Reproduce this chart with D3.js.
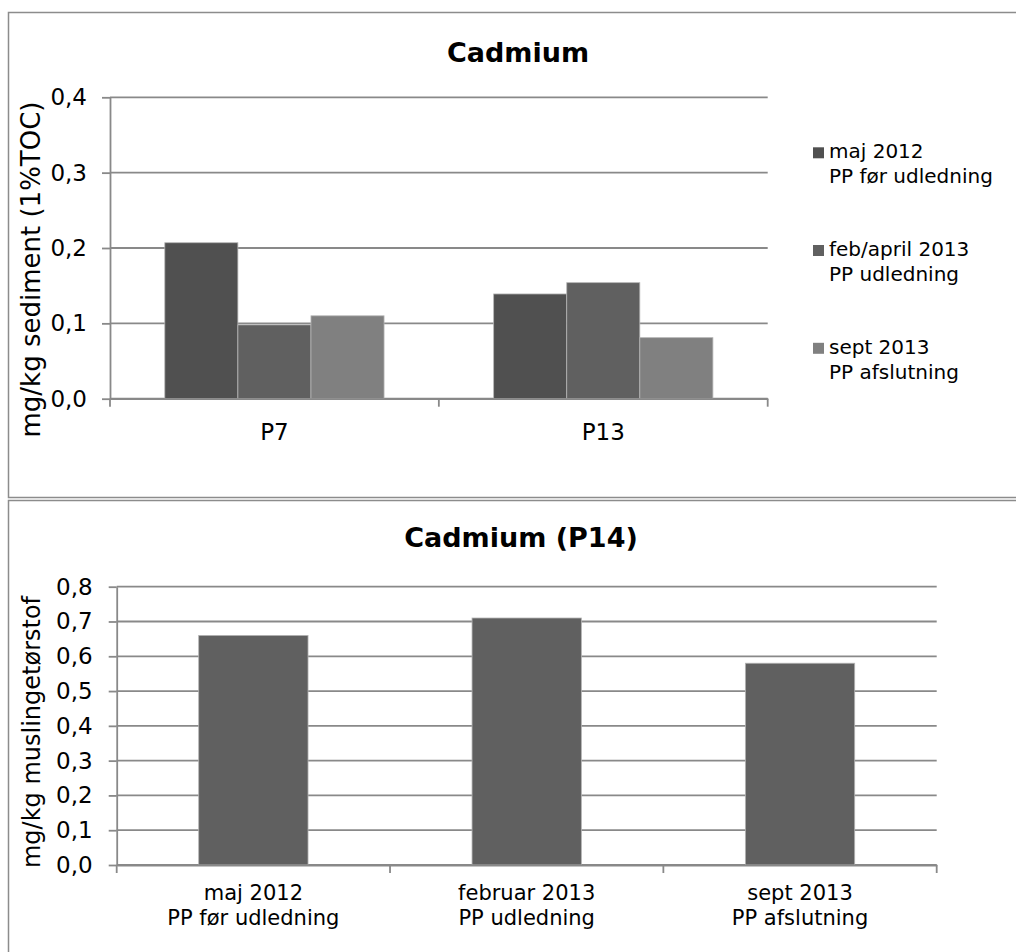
<!DOCTYPE html>
<html>
<head>
<meta charset="utf-8">
<script src="https://cdn.jsdelivr.net/npm/d3@7"></script>
<style>
  html, body { margin: 0; padding: 0; background: #fff; }
  svg { display: block; font-family: "DejaVu Sans", Verdana, sans-serif; }
</style>
</head>
<body>
<svg id="chart" width="1016" height="952"></svg>
<script>
// Sediment cadmium (normalised to 1% TOC) at stations P7 and P13
const stations = ["P7", "P13"];
const seriesLabels = [
  ["maj 2012", "PP før udledning"],
  ["feb/april 2013", "PP udledning"],
  ["sept 2013", "PP afslutning"]
];
const maj2012 = [0.207, 0.139];
const febApril2013 = [0.098, 0.154];
const sept2013 = [0.110, 0.081];
const sedimentTicks = [0, 0.1, 0.2, 0.3, 0.4];

// Mussel cadmium at station P14
const musselPeriods = [
  ["maj 2012", "PP før udledning"],
  ["februar 2013", "PP udledning"],
  ["sept 2013", "PP afslutning"]
];
const musselCadmium = [0.66, 0.71, 0.58];
const musselTicks = [0, 0.1, 0.2, 0.3, 0.4, 0.5, 0.6, 0.7, 0.8];

const seriesColors = ["#505050", "#606060", "#808080"];
const gridColor = "#898989";
const frameColor = "#8c8c8c";
const fontFamily = '"DejaVu Sans", Verdana, sans-serif';
const commaFmt = v => d3.format(".1f")(v).replace(".", ",");

const svg = d3.select("#chart");

// chart frames (they run past the right and bottom edges)
svg.append("path")
  .attr("d", "M1030,12.5 H8.5 V497.5 H1030")
  .attr("fill", "none").attr("stroke", frameColor).attr("stroke-width", 1.5);
svg.append("path")
  .attr("d", "M1030,500.5 H8.5 V970")
  .attr("fill", "none").attr("stroke", frameColor).attr("stroke-width", 1.5);

function drawGrid(g, y, ticks, x0, x1) {
  g.append("g").selectAll("line").data(ticks).join("line")
    .attr("x1", x0).attr("x2", x1)
    .attr("y1", d => y(d)).attr("y2", d => y(d))
    .attr("stroke", gridColor).attr("stroke-width", 1.8);
}

function styleAxis(sel, size) {
  sel.attr("font-family", fontFamily).attr("font-size", size);
  sel.selectAll("path.domain").attr("stroke", gridColor).attr("stroke-width", 1.8);
  sel.selectAll(".tick line").attr("stroke", gridColor).attr("stroke-width", 1.8);
  sel.selectAll(".tick text").attr("fill", "#000");
}

/* ---------- Top chart: Cadmium in sediment ---------- */
{
  const left = 110, right = 767.7, top = 97.3, bottom = 398.7;
  const g = svg.append("g");

  const x0 = d3.scaleBand().domain(stations).range([left, right]).padding(0);
  const unit = x0.bandwidth() / 4.5;
  const x1 = d3.scaleBand().domain(d3.range(3))
    .range([0.75 * unit, x0.bandwidth() - 0.75 * unit]).padding(0);
  const y = d3.scaleLinear().domain([0, 0.4]).range([bottom, top]);

  drawGrid(g, y, sedimentTicks, left, right);

  const seriesValues = [maj2012, febApril2013, sept2013];
  const barData = [];
  seriesValues.forEach((vals, s) => vals.forEach((v, i) =>
    barData.push({ station: stations[i], s, v })));

  g.append("g").selectAll("rect").data(barData).join("rect")
    .attr("x", d => x0(d.station) + x1(d.s))
    .attr("width", x1.bandwidth())
    .attr("y", d => y(d.v))
    .attr("height", d => y(0) - y(d.v))
    .attr("fill", d => seriesColors[d.s])
    .attr("stroke", "#b4b4b4").attr("stroke-width", 0.8);

  // y axis
  const ya = g.append("g").attr("transform", `translate(${left},0)`)
    .call(d3.axisLeft(y).tickValues(sedimentTicks).tickFormat(commaFmt)
      .tickSize(8).tickSizeOuter(0).tickPadding(15));
  styleAxis(ya, 23);

  // x axis: baseline, boundary ticks, centred labels
  const xa = g.append("g").attr("transform", `translate(0,${bottom})`)
    .call(d3.axisBottom(x0).tickSize(0).tickSizeOuter(0).tickPadding(25));
  styleAxis(xa, 23);
  const bounds = stations.map(s => x0(s)).concat([x0(stations[stations.length - 1]) + x0.bandwidth()]);
  xa.append("g").selectAll("line").data(bounds).join("line")
    .attr("x1", d => d).attr("x2", d => d).attr("y1", 0).attr("y2", 8)
    .attr("stroke", gridColor).attr("stroke-width", 1.8);

  // title
  svg.append("text").attr("x", 518).attr("y", 61.5).attr("text-anchor", "middle")
    .style("font-size", "27px").style("font-weight", "bold").text("Cadmium");

  // y axis title
  svg.append("text")
    .attr("transform", "translate(40,269.5) rotate(-90)")
    .attr("text-anchor", "middle").style("font-size", "26px")
    .text("mg/kg sediment (1%TOC)");

  // legend
  const lg = svg.append("g").attr("transform", "translate(813,0)");
  const legendY = [158.3, 256, 353.8];
  seriesLabels.forEach((lines, i) => {
    lg.append("rect").attr("x", 0).attr("y", legendY[i] - 11).attr("width", 11).attr("height", 11)
      .attr("fill", seriesColors[i]);
    const t = lg.append("text").style("font-size", "20px");
    lines.forEach((line, k) => t.append("tspan").attr("x", 16).attr("y", legendY[i] + k * 25).text(line));
  });
}

/* ---------- Bottom chart: Cadmium in mussels (P14) ---------- */
{
  const left = 116.7, right = 936.7, top = 586.7, bottom = 865;
  const g = svg.append("g");
  const keys = musselPeriods.map(d => d[0]);

  const x = d3.scaleBand().domain(keys).range([left, right]).padding(0);
  const unit = x.bandwidth() / 2.5;
  const y = d3.scaleLinear().domain([0, 0.8]).range([bottom, top]);

  drawGrid(g, y, musselTicks, left, right);

  g.append("g").selectAll("rect").data(musselCadmium).join("rect")
    .attr("x", (d, i) => x(keys[i]) + 0.75 * unit)
    .attr("width", unit)
    .attr("y", d => y(d))
    .attr("height", d => y(0) - y(d))
    .attr("fill", "#606060")
    .attr("stroke", "#b4b4b4").attr("stroke-width", 0.8);

  const ya = g.append("g").attr("transform", `translate(${left},0)`)
    .call(d3.axisLeft(y).tickValues(musselTicks).tickFormat(commaFmt)
      .tickSize(8).tickSizeOuter(0).tickPadding(16));
  styleAxis(ya, 23);

  const xa = g.append("g").attr("transform", `translate(0,${bottom})`)
    .call(d3.axisBottom(x).tickSize(0).tickSizeOuter(0).tickFormat(() => ""));
  styleAxis(xa, 21);
  const bounds = keys.map(k => x(k)).concat([x(keys[keys.length - 1]) + x.bandwidth()]);
  xa.append("g").selectAll("line").data(bounds).join("line")
    .attr("x1", d => d).attr("x2", d => d).attr("y1", 0).attr("y2", 8)
    .attr("stroke", gridColor).attr("stroke-width", 1.8);

  // two-line category labels
  musselPeriods.forEach((lines, i) => {
    const cx = x(keys[i]) + x.bandwidth() / 2;
    const t = g.append("text").attr("text-anchor", "middle").style("font-size", "21px");
    lines.forEach((line, k) => t.append("tspan").attr("x", cx).attr("y", 900 + k * 25).text(line));
  });

  svg.append("text").attr("x", 521).attr("y", 546.7).attr("text-anchor", "middle")
    .style("font-size", "27px").style("font-weight", "bold").text("Cadmium (P14)");

  svg.append("text")
    .attr("transform", "translate(40,732) rotate(-90)")
    .attr("text-anchor", "middle").style("font-size", "24px")
    .text("mg/kg muslingetørstof");
}
</script>
</body>
</html>
